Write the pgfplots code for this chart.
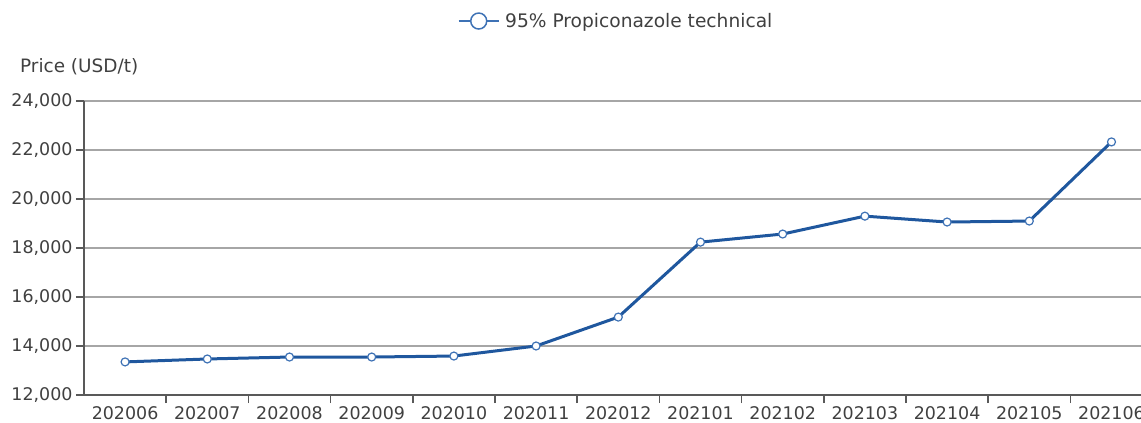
\documentclass[border=0pt]{standalone}
\usepackage{pgfplots}
\pgfplotsset{compat=1.18}
\usepackage{fontspec}
\setmainfont{DejaVu Sans}
\definecolor{txt}{HTML}{404040}
\definecolor{axc}{HTML}{595959}
\definecolor{grd}{HTML}{A6A6A6}
\definecolor{ser}{HTML}{1F579E}
\definecolor{leg}{HTML}{3E72B5}
\begin{document}
\begin{tikzpicture}
\path[use as bounding box] (-84bp,-28bp) rectangle (1057bp,395bp);
\clip (-84bp,-28bp) rectangle (1057bp,395bp);
\begin{axis}[
 at={(0,0)}, anchor=south west,
 scale only axis, width=1068.6bp, height=294bp,
 xmin=-0.5, xmax=12.5, ymin=12000, ymax=24000,
 clip mode=individual,
 axis x line*=bottom, axis y line*=left,
 axis line style={axc, line width=1.5bp, -},
 xtick={0,...,12},
 xticklabels={202006,202007,202008,202009,202010,202011,202012,202101,202102,202103,202104,202105,202106},
 major x tick style={draw=none},
 minor xtick={0.5,1.5,...,11.5},
 minor tick length=8bp,
 ytick={12000,14000,...,24000},
 major tick length=8bp,
 tick align=outside,
 tick style={axc, line width=1.5bp},
 ymajorgrids, grid style={grd, line width=1.5bp},
 scaled y ticks=false,
 yticklabel style={/pgf/number format/1000 sep={,}},
 /pgf/number format/assume math mode=true,
 tick label style={font=\fontsize{17.5}{20}\selectfont, text=txt},
 legend style={at={(rel axis cs:0.498,1.272)}, anchor=center, draw=none, fill=none,
   font=\fontsize{18.7}{21}\selectfont, text=txt},
 legend image code/.code={\draw[leg, line width=1.5bp] (0bp,0bp) -- (40bp,0bp);
   \draw[leg, line width=1.5bp, fill=white] (20bp,0bp) circle (8bp);
   \path (43bp,0bp);},
]
\addplot[ser, line width=3bp, mark=*, mark size=4bp,
  mark options={fill=white, draw=leg, line width=1.2bp}] coordinates {
 (0,13350) (1,13470) (2,13550) (3,13550) (4,13590) (5,14000) (6,15180)
 (7,18240) (8,18570) (9,19300) (10,19060) (11,19100) (12,22330)
};
\addlegendentry{95\% Propiconazole technical}
\node[anchor=west, font=\fontsize{18.5}{21}\selectfont, text=txt, inner sep=0pt]
  at (rel axis cs:-0.0599,1.1156) {Price (USD/t)};
\end{axis}
\end{tikzpicture}
\end{document}
